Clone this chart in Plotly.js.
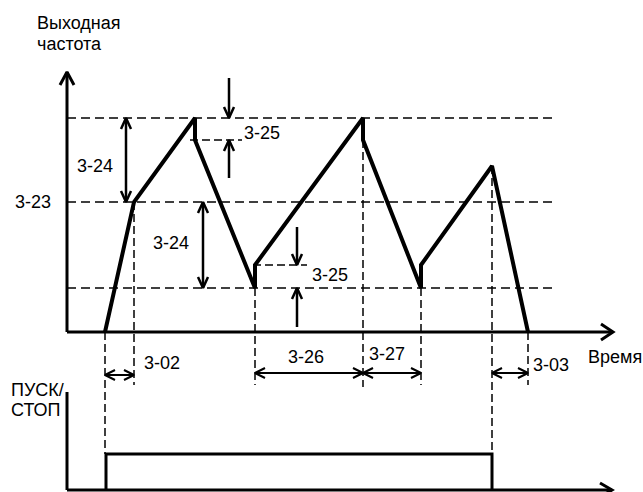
<!DOCTYPE html>
<html>
<head>
<meta charset="utf-8">
<script src="https://cdn.plot.ly/plotly-3.0.1.min.js"></script>
<style>html,body{margin:0;padding:0;background:#fff;}#chart{width:643px;height:492px;}</style>
</head>
<body>
<div id="chart"></div>
<script>
// ---- data (time units, frequency units) ----
const outTime = [38, 67, 128, 128, 188, 188, 296, 296, 354, 354, 425, 461];
const outFreq = [0, 130, 214, 192, 44, 67, 214, 192, 44, 67, 166, 0];
const freqLevels = [214, 130, 44];          // upper limit, 3-23 centre, lower limit
const levelLabels = ["", "3-23", ""];
const runTime = [39, 39, 425, 425];
const runState = [0, 1, 1, 0];
const spanStart = [38, 188, 296, 425];
const spanEnd = [67, 296, 354, 461];
const spanLabels = ["3-02", "3-26", "3-27", "3-03"];

// ---- helpers ----
function seg(xs, ys, x0, y0, x1, y1) { xs.push(x0, x1, null); ys.push(y0, y1, null); }
function chev(xs, ys, tx, ty, dx, dy, len, half) {
  const nx = -dy, ny = dx;
  xs.push(tx - len*dx + half*nx, tx, tx - len*dx - half*nx, null);
  ys.push(ty - len*dy + half*ny, ty, ty - len*dy - half*ny, null);
}
function line(xs, ys, w, dash, yaxis) {
  return {x: xs, y: ys, type: 'scatter', mode: 'lines', hoverinfo: 'skip',
    line: {color: '#000', width: w, dash: dash || 'solid'}, yaxis: yaxis || 'y', cliponaxis: true};
}

const traces = [];
// axes
let ax = [], ay = [];
seg(ax, ay, 0, 0, 0, 260); chev(ax, ay, 0, 260, 0, 1, 13, 7);
seg(ax, ay, 0, 0, 546, 0); chev(ax, ay, 546, 0, 1, 0, 12, 8);
seg(ax, ay, 0, -60, 0, -158); seg(ax, ay, 0, -158, 545, -158); chev(ax, ay, 545, -158, 1, 0, 12, 7);
traces.push(line(ax, ay, 3));

// level dashed lines
let lx = [], ly = [];
freqLevels.forEach(v => seg(lx, ly, 0, v, 488, v));
traces.push(line(lx, ly, 1.5, '9px,5px'));

// vertical guides
let gx = [], gy = [];
seg(gx, gy, outTime[0], 0, outTime[0], -122);
seg(gx, gy, outTime[1], outFreq[1], outTime[1], -53);
seg(gx, gy, outTime[4], outFreq[4], outTime[4], -53);
seg(gx, gy, outTime[7], outFreq[7], outTime[7], -55);
seg(gx, gy, outTime[8], outFreq[8], outTime[8], -53);
seg(gx, gy, outTime[10], outFreq[10], outTime[10], -122);
seg(gx, gy, outTime[11], 0, outTime[11], -53);
// short 3-25 dashes
seg(gx, gy, 123, outFreq[3], 175, outFreq[3]);
seg(gx, gy, 186, outFreq[5], 240, outFreq[5]);
traces.push(line(gx, gy, 1.5, '8px,4px'));

// vertical arrows
let vx = [], vy = [];
seg(vx, vy, 59, freqLevels[1], 59, freqLevels[0]);
chev(vx, vy, 59, freqLevels[0], 0, 1, 11, 5); chev(vx, vy, 59, freqLevels[1], 0, -1, 11, 5);
seg(vx, vy, 136, freqLevels[2], 136, freqLevels[1]);
chev(vx, vy, 136, freqLevels[1], 0, 1, 11, 5); chev(vx, vy, 136, freqLevels[2], 0, -1, 11, 5);
seg(vx, vy, 162, 254, 162, freqLevels[0]); chev(vx, vy, 162, freqLevels[0], 0, -1, 11, 5);
seg(vx, vy, 162, 154, 162, outFreq[3]); chev(vx, vy, 162, outFreq[3], 0, 1, 11, 5);
seg(vx, vy, 230, 105, 230, outFreq[5]); chev(vx, vy, 230, outFreq[5], 0, -1, 11, 5);
seg(vx, vy, 230, 5, 230, freqLevels[2]); chev(vx, vy, 230, freqLevels[2], 0, 1, 11, 5);
traces.push(line(vx, vy, 2.5));

// span arrows
let hx = [], hy = [];
spanStart.forEach((s, i) => {
  const v = i === 0 ? -43 : -41;
  seg(hx, hy, s, v, spanEnd[i], v);
  chev(hx, hy, s, v, -1, 0, 10, 5); chev(hx, hy, spanEnd[i], v, 1, 0, 10, 5);
});
traces.push(line(hx, hy, 2));

// output frequency
traces.push(line(outTime, outFreq, 4));
// run signal
traces.push(line(runTime, runState, 3, 'solid', 'y2'));

function lab(text, x, y) {
  return {text: text, x: x, y: y, xref: 'x', yref: 'y', xanchor: 'left', yanchor: 'middle',
    showarrow: false, font: {family: 'Liberation Sans, Arial, sans-serif', size: 18, color: '#000'}};
}
const annotations = [
  lab('Выходная', -32, 309), lab('частота', -32, 288),
  lab(levelLabels[1], -54, 130),
  lab('3-24', 8, 166), lab('3-24', 84, 89),
  lab('3-25', 175, 199), lab('3-25', 243, 57),
  lab('Время', 519, -25),
  lab('ПУСК/', -58, -58), lab('СТОП', -58, -78)
];
const spanLabelPos = [[75, -31], [219, -25], [300, -22], [464, -33]];
spanLabels.forEach((t, i) => annotations.push(lab(t, spanLabelPos[i][0], spanLabelPos[i][1])));

const layout = {
  width: 643, height: 492, margin: {l: 0, r: 0, t: 0, b: 0},
  paper_bgcolor: '#fff', plot_bgcolor: '#fff', showlegend: false,
  xaxis: {range: [-67, 576], visible: false, fixedrange: true},
  yaxis: {range: [-160, 332], visible: false, fixedrange: true},
  yaxis2: {range: [-2/36, 490/36], visible: false, overlaying: 'y', fixedrange: true},
  annotations: annotations
};
Plotly.newPlot('chart', traces, layout, {staticPlot: true, displayModeBar: false});
</script>
</body>
</html>
